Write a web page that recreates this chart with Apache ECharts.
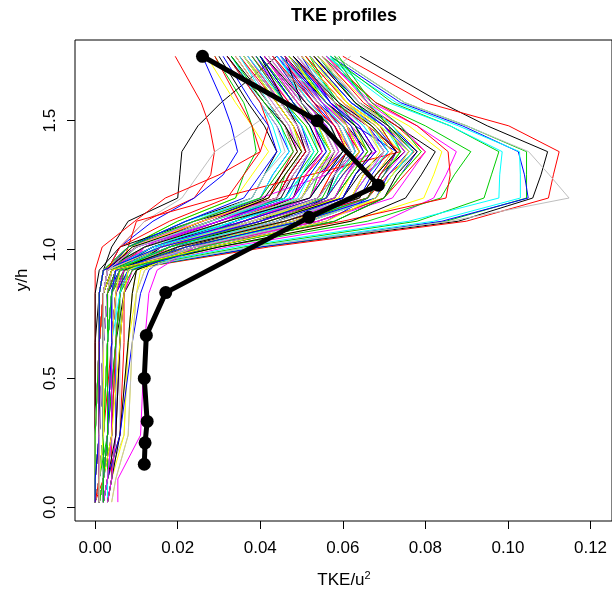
<!DOCTYPE html>
<html lang="en">
<head>
<meta charset="UTF-8">
<title>TKE profiles</title>
<script src="https://cdn.jsdelivr.net/npm/echarts@6/dist/echarts.min.js"></script>
<style>
    html, body { margin: 0; padding: 0; background: #fff; }
    #chart { width: 612px; height: 591px; }
</style>
</head>
<body>
<div id="chart"></div>
<script type="text/javascript">
// heights y/h at which every profile was sampled
var levels = [0.02, 0.11, 0.28, 0.64, 0.83, 0.92, 1.01, 1.11, 1.20, 1.29, 1.38, 1.48, 1.57, 1.75];

// TKE/u^2 of each profile at those heights, grouped by line colour
var blackProfiles = [
    [0.001, 0.001, 0.002, 0.002, 0.003, 0.006, 0.040, 0.088, 0.106, 0.108, 0.1096, 0.095, 0.0838, 0.0642],
    [0.000, 0.000, 0.001, 0.001, 0.001, 0.002, 0.004, 0.008, 0.020, 0.0205, 0.021, 0.0249, 0.0305, 0.044],
    [0.000, 0.001, 0.001, 0.002, 0.002, 0.004, 0.012, 0.030, 0.045, 0.048, 0.052, 0.049, 0.045, 0.036],
    [0.002, 0.002, 0.003, 0.003, 0.004, 0.006, 0.018, 0.040, 0.058, 0.062, 0.066, 0.061, 0.055, 0.045],
    [0.001, 0.002, 0.003, 0.005, 0.007, 0.010, 0.024, 0.048, 0.066, 0.069, 0.075, 0.070, 0.062, 0.052],
    [0.000, 0.000, 0.000, 0.000, 0.001, 0.002, 0.008, 0.022, 0.038, 0.041, 0.044, 0.041, 0.037, 0.030],
    [0.003, 0.004, 0.006, 0.008, 0.009, 0.010, 0.020, 0.036, 0.052, 0.055, 0.058, 0.055, 0.050, 0.041],
    [0.001, 0.001, 0.002, 0.002, 0.003, 0.005, 0.030, 0.062, 0.0752, 0.079, 0.0824, 0.073, 0.064, 0.054],
    [0.000, 0.001, 0.001, 0.002, 0.002, 0.004, 0.014, 0.034, 0.048, 0.050, 0.055, 0.052, 0.048, 0.040],
    [0.002, 0.003, 0.005, 0.006, 0.007, 0.008, 0.016, 0.038, 0.060, 0.064, 0.070, 0.066, 0.058, 0.049],
    [0.000, 0.000, 0.000, 0.001, 0.001, 0.002, 0.010, 0.026, 0.041, 0.045, 0.049, 0.046, 0.042, 0.033],
    [0.001, 0.002, 0.004, 0.004, 0.005, 0.007, 0.022, 0.044, 0.056, 0.058, 0.061, 0.054, 0.050, 0.046],
    [0.000, 0.000, 0.000, 0.000, 0.000, 0.001, 0.006, 0.024, 0.044, 0.047, 0.051, 0.049, 0.046, 0.040],
    [0.001, 0.001, 0.001, 0.002, 0.003, 0.004, 0.018, 0.042, 0.060, 0.063, 0.067, 0.063, 0.056, 0.046],
    [0.000, 0.000, 0.001, 0.001, 0.001, 0.002, 0.012, 0.032, 0.052, 0.056, 0.060, 0.057, 0.051, 0.041],
    [0.002, 0.002, 0.003, 0.003, 0.004, 0.005, 0.020, 0.046, 0.064, 0.068, 0.073, 0.067, 0.059, 0.048],
    [0.000, 0.001, 0.001, 0.001, 0.002, 0.003, 0.009, 0.028, 0.042, 0.046, 0.050, 0.046, 0.041, 0.032],
    [0.001, 0.001, 0.002, 0.002, 0.002, 0.004, 0.028, 0.058, 0.070, 0.073, 0.078, 0.071, 0.063, 0.053]
];
var redProfiles = [
    [0.001, 0.002, 0.003, 0.003, 0.004, 0.007, 0.042, 0.0899, 0.1098, 0.111, 0.1124, 0.1002, 0.080, 0.060],
    [0.000, 0.000, 0.001, 0.001, 0.002, 0.003, 0.006, 0.012, 0.024, 0.028, 0.0289, 0.0277, 0.0257, 0.0194],
    [0.001, 0.002, 0.003, 0.004, 0.005, 0.007, 0.020, 0.042, 0.060, 0.063, 0.068, 0.064, 0.057, 0.047],
    [0.002, 0.003, 0.006, 0.007, 0.007, 0.009, 0.024, 0.060, 0.085, 0.086, 0.0855, 0.078, 0.068, 0.056],
    [0.000, 0.000, 0.001, 0.002, 0.003, 0.004, 0.012, 0.032, 0.048, 0.051, 0.056, 0.053, 0.047, 0.038],
    [0.003, 0.004, 0.004, 0.005, 0.006, 0.008, 0.026, 0.050, 0.066, 0.071, 0.0773, 0.070, 0.063, 0.053],
    [0.000, 0.001, 0.001, 0.001, 0.002, 0.003, 0.010, 0.028, 0.042, 0.045, 0.048, 0.046, 0.042, 0.034],
    [0.001, 0.002, 0.002, 0.003, 0.003, 0.005, 0.016, 0.038, 0.054, 0.058, 0.062, 0.058, 0.052, 0.043],
    [0.002, 0.003, 0.004, 0.005, 0.006, 0.008, 0.022, 0.044, 0.062, 0.065, 0.072, 0.067, 0.060, 0.050],
    [0.000, 0.000, 0.000, 0.000, 0.000, 0.000, 0.0017, 0.0096, 0.017, 0.030, 0.040, 0.042, 0.040, 0.032],
    [0.001, 0.001, 0.002, 0.004, 0.005, 0.008, 0.018, 0.036, 0.052, 0.055, 0.060, 0.057, 0.053, 0.045],
    [0.000, 0.002, 0.003, 0.003, 0.004, 0.006, 0.008, 0.010, 0.030, 0.052, 0.074, 0.066, 0.058, 0.048],
    [0.000, 0.000, 0.001, 0.001, 0.001, 0.002, 0.014, 0.036, 0.054, 0.057, 0.061, 0.058, 0.054, 0.046],
    [0.001, 0.001, 0.002, 0.002, 0.003, 0.004, 0.020, 0.046, 0.066, 0.069, 0.073, 0.069, 0.061, 0.051],
    [0.000, 0.000, 0.000, 0.001, 0.001, 0.002, 0.010, 0.026, 0.044, 0.047, 0.051, 0.048, 0.044, 0.035],
    [0.002, 0.002, 0.003, 0.003, 0.003, 0.005, 0.024, 0.054, 0.070, 0.075, 0.080, 0.073, 0.065, 0.055],
    [0.001, 0.001, 0.001, 0.002, 0.002, 0.003, 0.016, 0.038, 0.056, 0.060, 0.064, 0.060, 0.053, 0.043],
    [0.000, 0.001, 0.001, 0.001, 0.002, 0.003, 0.006, 0.018, 0.032, 0.036, 0.040, 0.038, 0.035, 0.029]
];
var greenProfiles = [
    [0.001, 0.002, 0.003, 0.003, 0.004, 0.007, 0.040, 0.085, 0.1045, 0.1045, 0.1045, 0.090, 0.075, 0.058],
    [0.001, 0.001, 0.002, 0.002, 0.003, 0.005, 0.036, 0.078, 0.0942, 0.096, 0.0978, 0.086, 0.072, 0.057],
    [0.002, 0.003, 0.003, 0.004, 0.005, 0.006, 0.030, 0.066, 0.0837, 0.087, 0.091, 0.080, 0.068, 0.055],
    [0.000, 0.001, 0.001, 0.002, 0.002, 0.003, 0.012, 0.030, 0.046, 0.049, 0.053, 0.050, 0.045, 0.037],
    [0.002, 0.003, 0.004, 0.005, 0.006, 0.008, 0.020, 0.042, 0.058, 0.061, 0.065, 0.062, 0.056, 0.048],
    [0.000, 0.000, 0.001, 0.001, 0.002, 0.003, 0.014, 0.032, 0.044, 0.046, 0.050, 0.048, 0.044, 0.036],
    [0.001, 0.002, 0.003, 0.004, 0.004, 0.006, 0.024, 0.046, 0.064, 0.068, 0.073, 0.069, 0.063, 0.054],
    [0.003, 0.004, 0.005, 0.006, 0.006, 0.007, 0.016, 0.036, 0.052, 0.054, 0.057, 0.054, 0.049, 0.040],
    [0.000, 0.000, 0.001, 0.001, 0.001, 0.002, 0.008, 0.020, 0.034, 0.036, 0.039, 0.038, 0.036, 0.029],
    [0.001, 0.002, 0.002, 0.003, 0.004, 0.005, 0.020, 0.040, 0.055, 0.058, 0.063, 0.061, 0.058, 0.052],
    [0.001, 0.001, 0.003, 0.005, 0.006, 0.009, 0.026, 0.052, 0.068, 0.072, 0.077, 0.071, 0.066, 0.058],
    [0.000, 0.001, 0.002, 0.002, 0.003, 0.004, 0.016, 0.036, 0.050, 0.053, 0.057, 0.053, 0.048, 0.039],
    [0.000, 0.000, 0.001, 0.001, 0.001, 0.002, 0.016, 0.040, 0.058, 0.062, 0.066, 0.063, 0.059, 0.051],
    [0.001, 0.001, 0.002, 0.002, 0.002, 0.004, 0.010, 0.028, 0.046, 0.050, 0.054, 0.051, 0.046, 0.038],
    [0.000, 0.001, 0.001, 0.002, 0.002, 0.003, 0.022, 0.050, 0.066, 0.070, 0.074, 0.071, 0.066, 0.057],
    [0.001, 0.002, 0.002, 0.003, 0.003, 0.005, 0.018, 0.040, 0.056, 0.059, 0.064, 0.061, 0.056, 0.047],
    [0.000, 0.000, 0.000, 0.001, 0.001, 0.002, 0.008, 0.024, 0.040, 0.044, 0.048, 0.045, 0.041, 0.033],
    [0.002, 0.002, 0.003, 0.003, 0.004, 0.006, 0.028, 0.058, 0.070, 0.074, 0.079, 0.074, 0.067, 0.059]
];
var blueProfiles = [
    [0.001, 0.001, 0.002, 0.003, 0.003, 0.006, 0.040, 0.084, 0.1049, 0.104, 0.1025, 0.089, 0.074, 0.057],
    [0.000, 0.000, 0.001, 0.001, 0.002, 0.003, 0.006, 0.014, 0.024, 0.031, 0.0345, 0.033, 0.031, 0.026],
    [0.002, 0.003, 0.004, 0.005, 0.006, 0.008, 0.022, 0.046, 0.066, 0.070, 0.073, 0.068, 0.060, 0.050],
    [0.001, 0.001, 0.002, 0.002, 0.003, 0.004, 0.014, 0.034, 0.050, 0.053, 0.057, 0.054, 0.049, 0.041],
    [0.000, 0.000, 0.001, 0.002, 0.002, 0.003, 0.010, 0.026, 0.040, 0.043, 0.047, 0.044, 0.040, 0.032],
    [0.003, 0.004, 0.005, 0.005, 0.006, 0.007, 0.018, 0.040, 0.056, 0.059, 0.063, 0.060, 0.054, 0.044],
    [0.002, 0.003, 0.006, 0.009, 0.011, 0.013, 0.020, 0.034, 0.050, 0.054, 0.060, 0.056, 0.051, 0.043],
    [0.001, 0.002, 0.002, 0.003, 0.003, 0.005, 0.024, 0.048, 0.064, 0.067, 0.071, 0.066, 0.058, 0.047],
    [0.000, 0.000, 0.000, 0.001, 0.001, 0.002, 0.012, 0.030, 0.046, 0.049, 0.052, 0.050, 0.046, 0.039],
    [0.001, 0.002, 0.003, 0.004, 0.004, 0.006, 0.026, 0.054, 0.070, 0.074, 0.078, 0.072, 0.064, 0.053],
    [0.000, 0.001, 0.001, 0.002, 0.003, 0.004, 0.016, 0.036, 0.052, 0.056, 0.061, 0.058, 0.053, 0.044],
    [0.002, 0.002, 0.003, 0.004, 0.005, 0.008, 0.028, 0.056, 0.066, 0.069, 0.073, 0.063, 0.057, 0.050],
    [0.000, 0.000, 0.000, 0.001, 0.001, 0.002, 0.010, 0.030, 0.048, 0.052, 0.056, 0.053, 0.048, 0.040],
    [0.001, 0.001, 0.002, 0.002, 0.003, 0.004, 0.020, 0.044, 0.060, 0.063, 0.068, 0.064, 0.057, 0.048],
    [0.000, 0.001, 0.001, 0.001, 0.002, 0.003, 0.014, 0.036, 0.054, 0.058, 0.062, 0.059, 0.055, 0.047],
    [0.001, 0.001, 0.001, 0.002, 0.002, 0.003, 0.008, 0.022, 0.036, 0.040, 0.044, 0.042, 0.038, 0.031],
    [0.002, 0.002, 0.003, 0.004, 0.004, 0.005, 0.022, 0.050, 0.068, 0.071, 0.076, 0.070, 0.062, 0.052],
    [0.000, 0.000, 0.001, 0.001, 0.001, 0.002, 0.016, 0.040, 0.056, 0.060, 0.065, 0.062, 0.056, 0.045]
];
var cyanProfiles = [
    [0.001, 0.002, 0.003, 0.003, 0.004, 0.006, 0.038, 0.082, 0.103, 0.103, 0.1028, 0.088, 0.073, 0.056],
    [0.001, 0.001, 0.002, 0.002, 0.003, 0.005, 0.034, 0.076, 0.0978, 0.098, 0.0986, 0.086, 0.071, 0.056],
    [0.002, 0.002, 0.003, 0.004, 0.005, 0.006, 0.020, 0.042, 0.060, 0.063, 0.067, 0.063, 0.057, 0.047],
    [0.000, 0.000, 0.001, 0.001, 0.002, 0.003, 0.012, 0.028, 0.044, 0.047, 0.051, 0.048, 0.044, 0.036],
    [0.001, 0.002, 0.002, 0.003, 0.004, 0.005, 0.016, 0.036, 0.052, 0.055, 0.059, 0.056, 0.051, 0.042],
    [0.003, 0.003, 0.004, 0.005, 0.005, 0.007, 0.024, 0.048, 0.066, 0.069, 0.074, 0.070, 0.063, 0.054],
    [0.000, 0.001, 0.001, 0.002, 0.002, 0.004, 0.014, 0.032, 0.047, 0.050, 0.054, 0.052, 0.048, 0.040],
    [0.002, 0.002, 0.003, 0.003, 0.004, 0.006, 0.018, 0.040, 0.056, 0.058, 0.062, 0.059, 0.054, 0.046],
    [0.001, 0.001, 0.002, 0.002, 0.003, 0.004, 0.010, 0.024, 0.038, 0.041, 0.045, 0.043, 0.040, 0.033],
    [0.002, 0.003, 0.004, 0.004, 0.004, 0.006, 0.022, 0.046, 0.062, 0.066, 0.070, 0.065, 0.059, 0.050],
    [0.000, 0.001, 0.002, 0.003, 0.004, 0.005, 0.015, 0.034, 0.049, 0.052, 0.056, 0.054, 0.050, 0.045],
    [0.001, 0.002, 0.003, 0.004, 0.006, 0.008, 0.024, 0.050, 0.068, 0.072, 0.076, 0.069, 0.062, 0.052],
    [0.000, 0.000, 0.001, 0.001, 0.001, 0.002, 0.012, 0.034, 0.052, 0.056, 0.060, 0.057, 0.052, 0.044],
    [0.001, 0.001, 0.002, 0.002, 0.003, 0.004, 0.018, 0.044, 0.062, 0.066, 0.071, 0.067, 0.061, 0.052],
    [0.000, 0.000, 0.000, 0.001, 0.001, 0.002, 0.008, 0.022, 0.040, 0.043, 0.047, 0.045, 0.042, 0.035],
    [0.002, 0.002, 0.003, 0.003, 0.004, 0.005, 0.024, 0.052, 0.068, 0.072, 0.077, 0.072, 0.066, 0.057],
    [0.000, 0.001, 0.001, 0.002, 0.002, 0.003, 0.014, 0.038, 0.056, 0.059, 0.063, 0.060, 0.055, 0.045],
    [0.001, 0.001, 0.002, 0.002, 0.002, 0.003, 0.010, 0.028, 0.046, 0.050, 0.053, 0.050, 0.046, 0.037]
];
var magentaProfiles = [
    [0.001, 0.002, 0.003, 0.004, 0.005, 0.007, 0.032, 0.070, 0.082, 0.085, 0.0875, 0.078, 0.067, 0.055],
    [0.0055, 0.0055, 0.011, 0.012, 0.013, 0.015, 0.024, 0.042, 0.058, 0.061, 0.064, 0.060, 0.054, 0.045],
    [0.000, 0.001, 0.002, 0.002, 0.003, 0.004, 0.014, 0.032, 0.048, 0.051, 0.055, 0.052, 0.047, 0.039],
    [0.002, 0.003, 0.004, 0.005, 0.006, 0.008, 0.020, 0.044, 0.060, 0.063, 0.068, 0.064, 0.058, 0.048],
    [0.001, 0.001, 0.001, 0.002, 0.002, 0.003, 0.010, 0.026, 0.042, 0.045, 0.049, 0.047, 0.043, 0.035],
    [0.002, 0.002, 0.003, 0.004, 0.005, 0.006, 0.018, 0.038, 0.054, 0.057, 0.061, 0.058, 0.052, 0.043],
    [0.000, 0.000, 0.001, 0.001, 0.002, 0.004, 0.022, 0.048, 0.064, 0.068, 0.072, 0.067, 0.061, 0.051],
    [0.001, 0.002, 0.002, 0.003, 0.003, 0.005, 0.012, 0.024, 0.040, 0.056, 0.068, 0.062, 0.055, 0.044],
    [0.003, 0.004, 0.005, 0.006, 0.007, 0.009, 0.016, 0.036, 0.050, 0.053, 0.058, 0.055, 0.050, 0.041],
    [0.001, 0.001, 0.002, 0.003, 0.004, 0.005, 0.026, 0.052, 0.066, 0.070, 0.075, 0.070, 0.062, 0.052],
    [0.000, 0.001, 0.001, 0.002, 0.003, 0.004, 0.018, 0.040, 0.056, 0.058, 0.063, 0.061, 0.057, 0.049],
    [0.002, 0.003, 0.004, 0.004, 0.005, 0.007, 0.012, 0.030, 0.044, 0.047, 0.051, 0.049, 0.046, 0.038],
    [0.000, 0.000, 0.001, 0.001, 0.001, 0.002, 0.014, 0.036, 0.052, 0.055, 0.059, 0.056, 0.051, 0.042],
    [0.001, 0.001, 0.002, 0.002, 0.003, 0.004, 0.020, 0.046, 0.062, 0.066, 0.070, 0.066, 0.060, 0.050],
    [0.000, 0.000, 0.000, 0.001, 0.001, 0.002, 0.008, 0.026, 0.044, 0.048, 0.052, 0.049, 0.045, 0.037],
    [0.002, 0.002, 0.003, 0.004, 0.004, 0.006, 0.024, 0.054, 0.072, 0.076, 0.080, 0.074, 0.066, 0.056],
    [0.000, 0.001, 0.001, 0.001, 0.002, 0.003, 0.016, 0.040, 0.058, 0.061, 0.065, 0.061, 0.055, 0.046],
    [0.001, 0.001, 0.001, 0.002, 0.002, 0.003, 0.010, 0.030, 0.048, 0.051, 0.055, 0.053, 0.049, 0.041]
];
var yellowProfiles = [
    [0.001, 0.002, 0.003, 0.004, 0.005, 0.007, 0.030, 0.062, 0.0796, 0.082, 0.084, 0.076, 0.066, 0.054],
    [0.002, 0.003, 0.006, 0.008, 0.010, 0.012, 0.018, 0.034, 0.048, 0.051, 0.055, 0.051, 0.046, 0.036],
    [0.000, 0.001, 0.002, 0.002, 0.003, 0.004, 0.014, 0.032, 0.050, 0.054, 0.059, 0.056, 0.051, 0.043],
    [0.003, 0.004, 0.007, 0.008, 0.009, 0.010, 0.022, 0.044, 0.062, 0.066, 0.071, 0.067, 0.060, 0.050],
    [0.001, 0.001, 0.002, 0.003, 0.003, 0.005, 0.012, 0.028, 0.042, 0.045, 0.049, 0.046, 0.042, 0.034],
    [0.002, 0.003, 0.004, 0.005, 0.006, 0.007, 0.020, 0.040, 0.056, 0.059, 0.063, 0.060, 0.055, 0.046],
    [0.000, 0.001, 0.001, 0.002, 0.002, 0.003, 0.008, 0.020, 0.034, 0.038, 0.042, 0.038, 0.034, 0.027],
    [0.001, 0.002, 0.003, 0.004, 0.004, 0.006, 0.026, 0.052, 0.066, 0.069, 0.074, 0.068, 0.061, 0.051],
    [0.002, 0.002, 0.003, 0.003, 0.004, 0.005, 0.016, 0.036, 0.052, 0.055, 0.060, 0.057, 0.051, 0.042],
    [0.004, 0.005, 0.008, 0.009, 0.010, 0.011, 0.024, 0.050, 0.070, 0.074, 0.079, 0.072, 0.064, 0.054],
    [0.000, 0.000, 0.001, 0.001, 0.002, 0.003, 0.016, 0.038, 0.054, 0.057, 0.061, 0.059, 0.055, 0.048],
    [0.001, 0.002, 0.004, 0.006, 0.007, 0.008, 0.020, 0.042, 0.059, 0.062, 0.066, 0.062, 0.056, 0.046],
    [0.000, 0.000, 0.001, 0.001, 0.001, 0.002, 0.012, 0.032, 0.050, 0.053, 0.057, 0.054, 0.049, 0.041],
    [0.001, 0.001, 0.002, 0.003, 0.003, 0.004, 0.020, 0.046, 0.064, 0.068, 0.072, 0.067, 0.060, 0.050],
    [0.000, 0.000, 0.000, 0.001, 0.001, 0.002, 0.009, 0.026, 0.042, 0.046, 0.050, 0.048, 0.044, 0.036],
    [0.002, 0.002, 0.003, 0.004, 0.005, 0.006, 0.022, 0.048, 0.062, 0.065, 0.069, 0.066, 0.061, 0.053],
    [0.000, 0.001, 0.001, 0.001, 0.002, 0.003, 0.016, 0.038, 0.056, 0.060, 0.064, 0.061, 0.056, 0.047],
    [0.001, 0.001, 0.002, 0.002, 0.002, 0.004, 0.028, 0.056, 0.068, 0.072, 0.076, 0.069, 0.061, 0.052]
];
var grayProfiles = [
    [0.001, 0.002, 0.003, 0.003, 0.004, 0.006, 0.038, 0.086, 0.1148, 0.110, 0.105, 0.090, 0.075, 0.058],
    [0.000, 0.001, 0.001, 0.002, 0.002, 0.003, 0.006, 0.012, 0.021, 0.025, 0.029, 0.038, 0.046, 0.0619],
    [0.002, 0.003, 0.007, 0.008, 0.009, 0.010, 0.020, 0.040, 0.058, 0.061, 0.066, 0.062, 0.056, 0.047],
    [0.000, 0.001, 0.001, 0.002, 0.002, 0.004, 0.014, 0.034, 0.050, 0.053, 0.057, 0.054, 0.049, 0.040],
    [0.001, 0.002, 0.002, 0.003, 0.003, 0.005, 0.024, 0.048, 0.064, 0.068, 0.072, 0.067, 0.060, 0.050],
    [0.003, 0.004, 0.006, 0.006, 0.007, 0.008, 0.012, 0.028, 0.044, 0.047, 0.050, 0.047, 0.043, 0.035],
    [0.000, 0.000, 0.001, 0.001, 0.002, 0.003, 0.018, 0.040, 0.056, 0.059, 0.064, 0.061, 0.055, 0.046],
    [0.002, 0.003, 0.004, 0.005, 0.005, 0.006, 0.022, 0.046, 0.062, 0.065, 0.069, 0.065, 0.058, 0.048],
    [0.001, 0.001, 0.002, 0.002, 0.003, 0.004, 0.010, 0.024, 0.038, 0.041, 0.046, 0.044, 0.040, 0.032],
    [0.004, 0.005, 0.008, 0.009, 0.010, 0.012, 0.026, 0.054, 0.070, 0.073, 0.077, 0.071, 0.064, 0.054],
    [0.001, 0.002, 0.003, 0.003, 0.004, 0.005, 0.016, 0.036, 0.052, 0.055, 0.059, 0.057, 0.052, 0.043],
    [0.000, 0.001, 0.002, 0.003, 0.003, 0.004, 0.020, 0.044, 0.060, 0.063, 0.067, 0.063, 0.058, 0.049],
    [0.000, 0.000, 0.001, 0.001, 0.001, 0.002, 0.012, 0.032, 0.050, 0.054, 0.058, 0.055, 0.050, 0.042],
    [0.001, 0.001, 0.002, 0.002, 0.003, 0.004, 0.020, 0.044, 0.062, 0.065, 0.070, 0.066, 0.059, 0.049],
    [0.000, 0.000, 0.000, 0.001, 0.001, 0.002, 0.008, 0.024, 0.040, 0.044, 0.048, 0.046, 0.042, 0.034],
    [0.002, 0.002, 0.003, 0.003, 0.004, 0.005, 0.024, 0.052, 0.068, 0.072, 0.076, 0.071, 0.064, 0.055],
    [0.000, 0.001, 0.001, 0.002, 0.002, 0.003, 0.016, 0.038, 0.054, 0.058, 0.062, 0.059, 0.054, 0.045],
    [0.001, 0.001, 0.001, 0.002, 0.002, 0.003, 0.010, 0.028, 0.044, 0.048, 0.052, 0.049, 0.045, 0.036]
];

// mean profile (thick black line with dots)
var meanTKE = [0.026, 0.0538, 0.0686, 0.0518, 0.0171, 0.0124, 0.0119, 0.0126, 0.0121, 0.0119];
var meanY   = [1.75, 1.5, 1.25, 1.125, 0.833, 0.667, 0.5, 0.333, 0.25, 0.167];

var xTicks = [0, 0.02, 0.04, 0.06, 0.08, 0.10, 0.12];
var yTicks = [0, 0.5, 1.0, 1.5];

// R default palette
var palette = ['#000000', '#FF0000', '#00CD00', '#0000FF', '#00FFFF', '#FF00FF', '#FFFF00', '#BEBEBE'];
var groups = [blackProfiles, redProfiles, greenProfiles, blueProfiles,
              cyanProfiles, magentaProfiles, yellowProfiles, grayProfiles];

var font = 'Liberation Sans, Arial, Helvetica, sans-serif';

// lines are drawn in R's order: colours cycle through the palette
var series = [];
for (var i = 0; i < 18; i++) {
    for (var c = 0; c < groups.length; c++) {
        var prof = groups[c][i];
        if (!prof) continue;
        var pts = [];
        for (var k = 0; k < levels.length; k++) {
            pts.push([prof[k], levels[k]]);
        }
        series.push({
            type: 'line',
            data: pts,
            symbol: 'none',
            silent: true,
            clip: false,
            lineStyle: { color: palette[c], width: 1 }
        });
    }
}

var meanPts = [];
for (var j = 0; j < meanTKE.length; j++) {
    meanPts.push([meanTKE[j], meanY[j]]);
}
series.push({
    type: 'line',
    data: meanPts,
    symbol: 'circle',
    symbolSize: 13,
    showAllSymbol: true,
    clip: false,
    itemStyle: { color: '#000' },
    lineStyle: { color: '#000', width: 5 }
});

var myChart = echarts.init(document.getElementById('chart'));
myChart.setOption({
    animation: false,
    backgroundColor: '#fff',
    grid: {
        left: 75, top: 40, right: -2, bottom: 70,
        show: true, borderColor: '#000', borderWidth: 1, backgroundColor: 'transparent'
    },
    xAxis: {
        type: 'value',
        min: -0.00488,
        max: 0.1252,
        axisLine: { show: false, onZero: false },
        splitLine: { show: false },
        axisTick: { customValues: xTicks, length: 8, lineStyle: { color: '#000' } },
        axisLabel: {
            customValues: xTicks, margin: 19, fontSize: 17, color: '#000', fontFamily: font,
            formatter: function (v) { return v.toFixed(2); }
        }
    },
    yAxis: {
        type: 'value',
        min: -0.0532,
        max: 1.8132,
        axisLine: { show: false, onZero: false },
        splitLine: { show: false },
        axisTick: { customValues: yTicks, length: 8, lineStyle: { color: '#000' } },
        axisLabel: {
            customValues: yTicks, margin: 16, fontSize: 17, color: '#000', fontFamily: font,
            rotate: 90,
            formatter: function (v) { return v.toFixed(1); }
        }
    },
    graphic: [
        {
            type: 'text', x: 344, y: 16,
            style: { text: 'TKE profiles', fontSize: 18, fontWeight: 'bold', fontFamily: font,
                     fill: '#000', align: 'center', verticalAlign: 'middle' }
        },
        {
            type: 'text', x: 344, y: 580,
            style: {
                text: 'TKE/u{sup|2}', fontSize: 17, fontFamily: font, fill: '#000',
                align: 'center', verticalAlign: 'middle', lineHeight: 20,
                rich: { sup: { fontSize: 11, fontFamily: font, fill: '#000', verticalAlign: 'top', lineHeight: 12 } }
            }
        },
        {
            type: 'text', x: 22, y: 280, rotation: Math.PI / 2,
            style: { text: 'y/h', fontSize: 17, fontFamily: font, fill: '#000',
                     align: 'center', verticalAlign: 'middle' }
        }
    ],
    series: series
});
</script>
</body>
</html>
